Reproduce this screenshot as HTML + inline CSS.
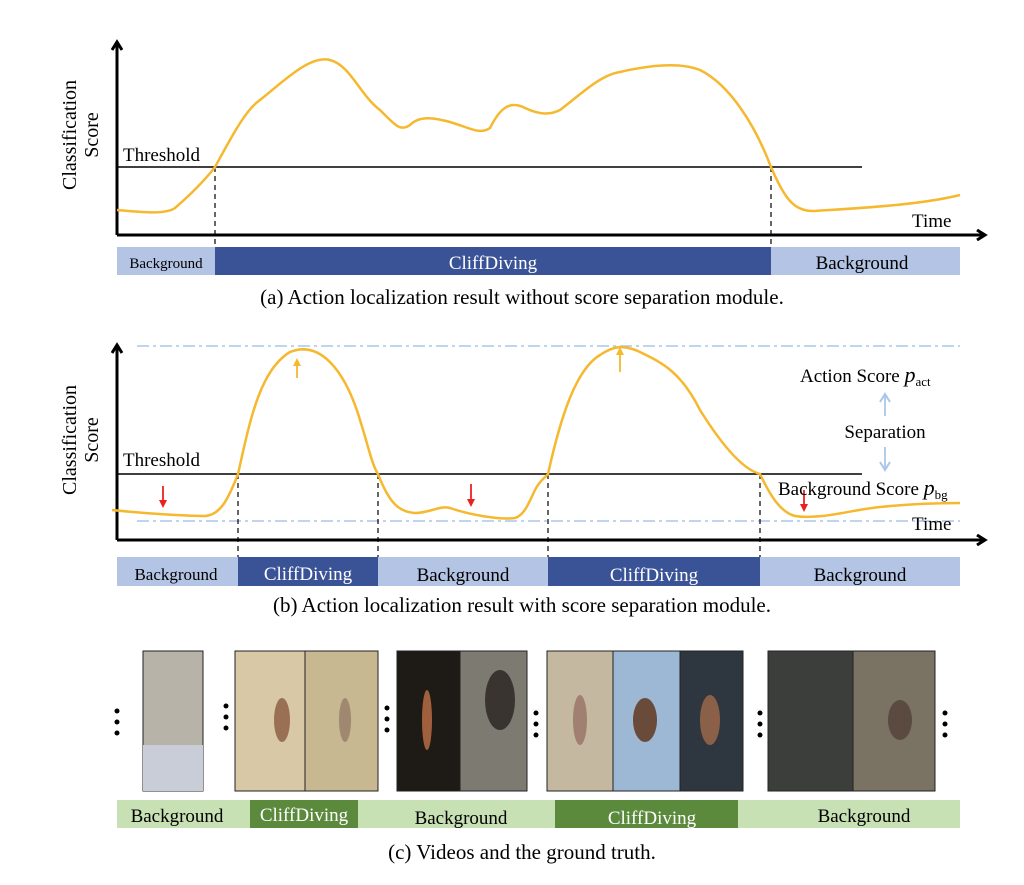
<!DOCTYPE html>
<html><head><meta charset="utf-8"><style>
html,body{margin:0;padding:0;background:#fff;}
svg{display:block;}
text{font-family:"Liberation Serif",serif;fill:#000;}
</style></head><body>
<svg width="1024" height="885" viewBox="0 0 1024 885" xmlns="http://www.w3.org/2000/svg">
<defs>
<marker id="ax" markerWidth="12" markerHeight="12" refX="9" refY="6" orient="auto" markerUnits="userSpaceOnUse">
<path d="M1,1 L9,6 L1,11" fill="none" stroke="#000" stroke-width="3"/></marker>
<marker id="oa" markerWidth="8" markerHeight="8" refX="4" refY="4" orient="auto" markerUnits="userSpaceOnUse"><path d="M0,0 L8,4 L0,8z" fill="#f5b82e"/></marker>
<marker id="ra" markerWidth="8" markerHeight="8" refX="4" refY="4" orient="auto" markerUnits="userSpaceOnUse"><path d="M0,0 L8,4 L0,8z" fill="#e8231f"/></marker>
<marker id="ba" markerWidth="12" markerHeight="12" refX="9" refY="6" orient="auto" markerUnits="userSpaceOnUse"><path d="M1,1 L9,6 L1,11" fill="none" stroke="#a9c6ea" stroke-width="2"/></marker>
</defs>

<!-- (a) -->
<text transform="translate(76,135) rotate(-90)" font-size="20" text-anchor="middle">Classification</text>
<text transform="translate(98,135) rotate(-90)" font-size="20" text-anchor="middle">Score</text>
<line x1="117" y1="235" x2="117" y2="42" stroke="#000" stroke-width="3" marker-end="url(#ax)"/>
<line x1="117" y1="235" x2="985" y2="235" stroke="#000" stroke-width="3" marker-end="url(#ax)"/>
<line x1="117" y1="167" x2="862" y2="167" stroke="#000" stroke-width="1.5"/>
<text x="123" y="161" font-size="19">Threshold</text>
<text x="912" y="227" font-size="19">Time</text>
<line x1="215" y1="167" x2="215" y2="275" stroke="#000" stroke-width="1.2" stroke-dasharray="5,4"/>
<line x1="771" y1="167" x2="771" y2="275" stroke="#000" stroke-width="1.2" stroke-dasharray="5,4"/>
<path d="M117,210 C140,212 165,215 175,208 C190,195 205,180 215,167 C230,140 245,110 260,100 C285,80 310,55 330,60 C350,65 360,95 380,110 C395,125 400,132 410,125 C420,115 435,118 450,122 C470,128 480,135 490,128 C500,108 510,100 525,108 C540,115 550,115 560,110 C580,95 600,75 620,72 C650,65 680,62 700,70 C730,85 755,125 771,167 C785,200 795,212 815,211 C860,208 920,205 960,195" fill="none" stroke="#f5b82e" stroke-width="2.5"/>
<rect x="117" y="247" width="98" height="28" fill="#b4c4e4"/>
<rect x="215" y="247" width="556" height="28" fill="#3a5396"/>
<rect x="771" y="247" width="189" height="28" fill="#b4c4e4"/>
<text x="166" y="268" font-size="15" text-anchor="middle">Background</text>
<text x="493" y="269" font-size="19" text-anchor="middle" style="fill:#fff">CliffDiving</text>
<text x="862" y="269" font-size="19" text-anchor="middle">Background</text>
<text x="522" y="304" font-size="21" text-anchor="middle">(a) Action localization result without score separation module.</text>

<!-- (b) -->
<text transform="translate(76,440) rotate(-90)" font-size="20" text-anchor="middle">Classification</text>
<text transform="translate(98,440) rotate(-90)" font-size="20" text-anchor="middle">Score</text>
<line x1="137" y1="346" x2="960" y2="346" stroke="#a9c6ea" stroke-width="1.5" stroke-dasharray="12,4,3,4"/>
<line x1="137" y1="521" x2="960" y2="521" stroke="#a9c6ea" stroke-width="1.5" stroke-dasharray="12,4,3,4"/>
<line x1="117" y1="540" x2="117" y2="345" stroke="#000" stroke-width="3" marker-end="url(#ax)"/>
<line x1="117" y1="540" x2="985" y2="540" stroke="#000" stroke-width="3" marker-end="url(#ax)"/>
<line x1="117" y1="474" x2="862" y2="474" stroke="#000" stroke-width="1.5"/>
<text x="123" y="466" font-size="19">Threshold</text>
<text x="912" y="530" font-size="19">Time</text>
<g stroke="#000" stroke-width="1.2" stroke-dasharray="5,4">
<line x1="238" y1="474" x2="238" y2="586"/><line x1="378" y1="474" x2="378" y2="586"/>
<line x1="548" y1="474" x2="548" y2="586"/><line x1="760" y1="474" x2="760" y2="586"/></g>
<path d="M112,510 C150,514 190,516 205,516 C220,515 228,500 238,474 C250,420 260,370 290,352 C320,340 345,370 360,420 C368,445 372,465 378,474 C390,505 400,512 415,513 C430,513 440,505 450,508 C470,515 500,520 515,518 C525,515 530,500 535,490 C540,480 545,478 548,474 C560,420 575,370 600,355 C615,345 625,345 640,352 C660,362 680,370 700,410 C725,450 745,470 760,474 C770,495 780,512 795,516 C820,520 850,510 880,507 C910,504 940,503 960,503" fill="none" stroke="#f5b82e" stroke-width="2.5"/>
<line x1="297" y1="378" x2="297" y2="362" stroke="#f5b82e" stroke-width="1.8" marker-end="url(#oa)"/>
<line x1="620" y1="372" x2="620" y2="351" stroke="#f5b82e" stroke-width="1.8" marker-end="url(#oa)"/>
<line x1="163" y1="486" x2="163" y2="504" stroke="#e8231f" stroke-width="1.8" marker-end="url(#ra)"/>
<line x1="471" y1="484" x2="471" y2="503" stroke="#e8231f" stroke-width="1.8" marker-end="url(#ra)"/>
<line x1="804" y1="490" x2="804" y2="508" stroke="#e8231f" stroke-width="1.8" marker-end="url(#ra)"/>
<line x1="885" y1="416" x2="885" y2="394" stroke="#a9c6ea" stroke-width="1.8" marker-end="url(#ba)"/>
<line x1="885" y1="447" x2="885" y2="470" stroke="#a9c6ea" stroke-width="1.8" marker-end="url(#ba)"/>
<text x="800" y="382" font-size="19">Action Score <tspan font-style="italic" font-size="22">p</tspan><tspan font-size="13" dy="4">act</tspan></text>
<text x="885" y="438" font-size="19" text-anchor="middle">Separation</text>
<text x="778" y="495" font-size="19">Background Score <tspan font-style="italic" font-size="22">p</tspan><tspan font-size="13" dy="4">bg</tspan></text>
<rect x="117" y="557" width="121" height="29" fill="#b4c4e4"/>
<rect x="238" y="557" width="140" height="29" fill="#3a5396"/>
<rect x="378" y="557" width="170" height="29" fill="#b4c4e4"/>
<rect x="548" y="557" width="212" height="29" fill="#3a5396"/>
<rect x="760" y="557" width="200" height="29" fill="#b4c4e4"/>
<text x="176" y="580" font-size="17" text-anchor="middle">Background</text>
<text x="308" y="580" font-size="19" text-anchor="middle" style="fill:#fff">CliffDiving</text>
<text x="463" y="581" font-size="19" text-anchor="middle">Background</text>
<text x="654" y="581" font-size="19" text-anchor="middle" style="fill:#fff">CliffDiving</text>
<text x="860" y="581" font-size="19" text-anchor="middle">Background</text>
<text x="522" y="612" font-size="21" text-anchor="middle">(b) Action localization result with score separation module.</text>

<!-- (c) frames -->
<rect x="143" y="651" width="60" height="140" fill="#b8b3a8" stroke="#222"/>
<rect x="143" y="745" width="60" height="46" fill="#c8cdd8"/>
<rect x="235" y="651" width="70" height="140" fill="#d8c8a6" stroke="#222"/>
<rect x="305" y="651" width="73" height="140" fill="#c7b892" stroke="#222"/>
<rect x="397" y="651" width="63" height="140" fill="#1e1a16" stroke="#222"/>
<rect x="460" y="651" width="67" height="140" fill="#7d7a72" stroke="#222"/>
<rect x="547" y="651" width="66" height="140" fill="#c4b9a0" stroke="#222"/>
<rect x="613" y="651" width="67" height="140" fill="#9cb8d4" stroke="#222"/>
<rect x="680" y="651" width="63" height="140" fill="#2e3740" stroke="#222"/>
<rect x="768" y="651" width="85" height="140" fill="#3c3e3c" stroke="#222"/>
<rect x="853" y="651" width="82" height="140" fill="#7a7262" stroke="#222"/>
<ellipse cx="282" cy="720" rx="8" ry="22" fill="#9a7055"/>
<ellipse cx="345" cy="720" rx="6" ry="22" fill="#a08870"/>
<ellipse cx="427" cy="720" rx="5" ry="30" fill="#a0603e"/>
<ellipse cx="500" cy="700" rx="15" ry="30" fill="#3a3430"/>
<ellipse cx="580" cy="720" rx="7" ry="25" fill="#a08070"/>
<ellipse cx="645" cy="720" rx="12" ry="22" fill="#6a4a38"/>
<ellipse cx="710" cy="720" rx="10" ry="25" fill="#8a6048"/>
<ellipse cx="900" cy="720" rx="12" ry="20" fill="#5a4a40"/>
<g fill="#000">
<circle cx="117" cy="711" r="2.5"/><circle cx="117" cy="722" r="2.5"/><circle cx="117" cy="733" r="2.5"/>
<circle cx="226" cy="706" r="2.5"/><circle cx="226" cy="717" r="2.5"/><circle cx="226" cy="728" r="2.5"/>
<circle cx="387" cy="708" r="2.5"/><circle cx="387" cy="719" r="2.5"/><circle cx="387" cy="730" r="2.5"/>
<circle cx="536" cy="713" r="2.5"/><circle cx="536" cy="724" r="2.5"/><circle cx="536" cy="735" r="2.5"/>
<circle cx="760" cy="713" r="2.5"/><circle cx="760" cy="724" r="2.5"/><circle cx="760" cy="735" r="2.5"/>
<circle cx="945" cy="713" r="2.5"/><circle cx="945" cy="724" r="2.5"/><circle cx="945" cy="735" r="2.5"/>
</g>
<rect x="117" y="800" width="843" height="28" fill="#c7e0b4"/>
<rect x="250" y="800" width="108" height="28" fill="#5b8a3c"/>
<rect x="555" y="800" width="183" height="28" fill="#5b8a3c"/>
<text x="177" y="822" font-size="19" text-anchor="middle">Background</text>
<text x="304" y="821" font-size="19" text-anchor="middle" style="fill:#fff">CliffDiving</text>
<text x="461" y="824" font-size="19" text-anchor="middle">Background</text>
<text x="652" y="824" font-size="19" text-anchor="middle" style="fill:#fff">CliffDiving</text>
<text x="864" y="822" font-size="19" text-anchor="middle">Background</text>
<text x="522" y="859" font-size="21" text-anchor="middle">(c) Videos and the ground truth.</text>
</svg>
</body></html>
